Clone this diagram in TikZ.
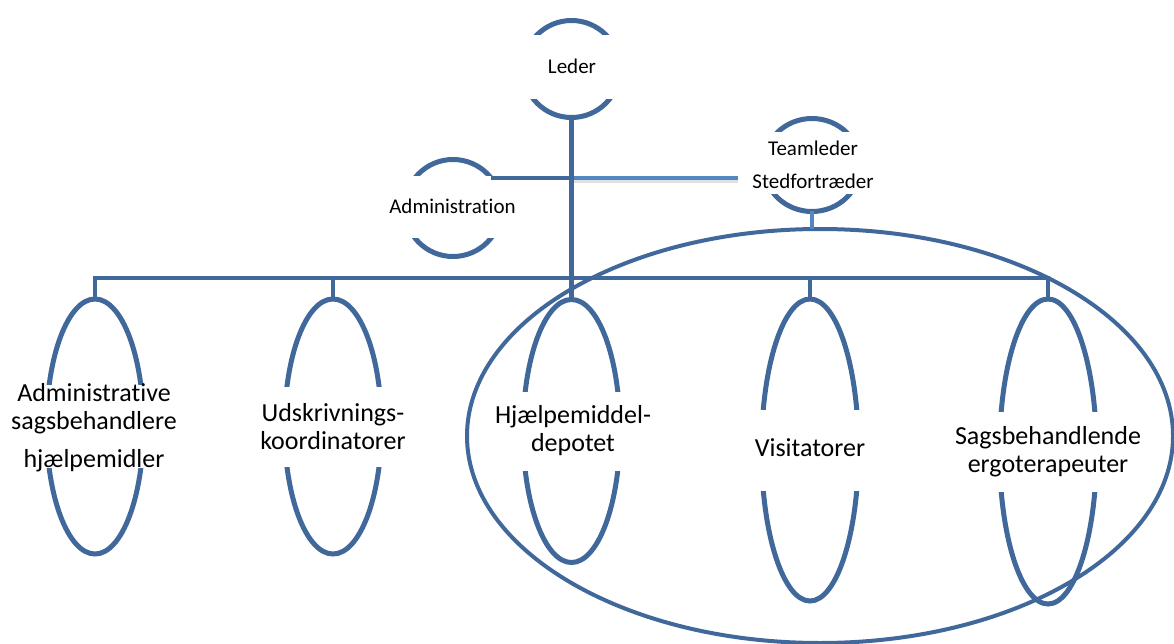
\documentclass[tikz,border=0pt]{standalone}
\usepackage{fontspec}
\setmainfont{Carlito}[Ligatures=NoCommon]
\usetikzlibrary{shapes.geometric,positioning}

\definecolor{orgblue}{RGB}{65,104,155}
\definecolor{linkblue}{RGB}{84,134,194}

\tikzset{
  unit/.style={ellipse, draw=orgblue, line width=5pt, inner sep=0pt, outer sep=0pt, minimum width=97pt},
  band/.style={fill=white},
  small/.style={font=\fontsize{21}{25}\selectfont, align=center, inner sep=0pt},
  big/.style={font=\fontsize{26}{28}\selectfont, align=center, inner sep=0pt},
  link/.style={draw=orgblue, line width=4.5pt},
}

\begin{document}
\begin{tikzpicture}[x=1pt, y=-1pt]
\useasboundingbox (0,0) rectangle (1174,644);

% the units
\node[unit, minimum height=97pt] (leder) at (571.5,69) {};
\node[unit, minimum height=97pt] (admin) at (453,208) {};
\node[unit, minimum height=93pt] (team) at (812,165) {};
\node[unit, line width=4pt, minimum width=706pt, minimum height=414pt] (omr) at (820,436) {};
\node[unit, minimum height=255pt] (admsag) at (95,426.5) {};
\node[unit, minimum height=255pt] (udsk) at (333,426.5) {};
\node[unit, minimum height=263pt] (hjaelp) at (571.5,431) {};
\node[unit, minimum height=302pt] (visit) at (810,450) {};
\node[unit, minimum height=305pt] (sagsb) at (1048,451.5) {};

% gaps for the texts
\fill[band] (518,35) rectangle (625,99);
\fill[band] (399,176) rectangle (507,238);
\fill[band] (758,132) rectangle (866,194);
\fill[band] (41,385) rectangle (149,468);
\fill[band] (279,387) rectangle (387,467);
\fill[band] (517,392) rectangle (626,471);
\fill[band] (756,410) rectangle (864,491);
\fill[band] (994,412) rectangle (1102,492);

% connectors
\coordinate (bus) at (0,278);
\coordinate (split) at (leder.south |- admin.38);
\coordinate (tl-end) at (738,0);
\draw[link, draw=black, opacity=.12, transform canvas={yshift=-3pt}] (split) -- (split -| tl-end);
\draw[link, draw=linkblue] (split) -- (split -| tl-end);
\draw[link, draw=linkblue] (team.south) -- (team.south |- omr.north);
\draw[link] (admin.38) -- (split);
\draw[link] (leder.south) -- (hjaelp.north);
\draw[link] (admsag.north) -- (admsag.north |- bus) -- (sagsb.north |- bus) -- (sagsb.north);
\foreach \n in {udsk,visit}
  \draw[link] (\n.north) -- (\n.north |- bus);

% texts
\node[small, anchor=base] (leder-t) at (572,74) {Leder};
\node[small, anchor=base] (admin-t) at (452.5,214) {Administration};
\node[small] (team-t) at (813,165) {Teamleder\\[8pt]Stedfortræder};
\node[big] (admsag-t) at (94,427.5) {Administrative\\sagsbehandlere\\[10pt]hjælpemidler};
\node[big] (udsk-t) at (333,426.5) {Udskrivnings-\\koordinatorer};
\node[big] (hjaelp-t) at (573,431) {Hjælpemiddel-\\depotet};
\node[big, anchor=base] (visit-t) at (810,456.5) {Visitatorer};
\node[big] (sagsb-t) at (1048,451.5) {Sagsbehandlende\\ergoterapeuter};
\end{tikzpicture}
\end{document}
